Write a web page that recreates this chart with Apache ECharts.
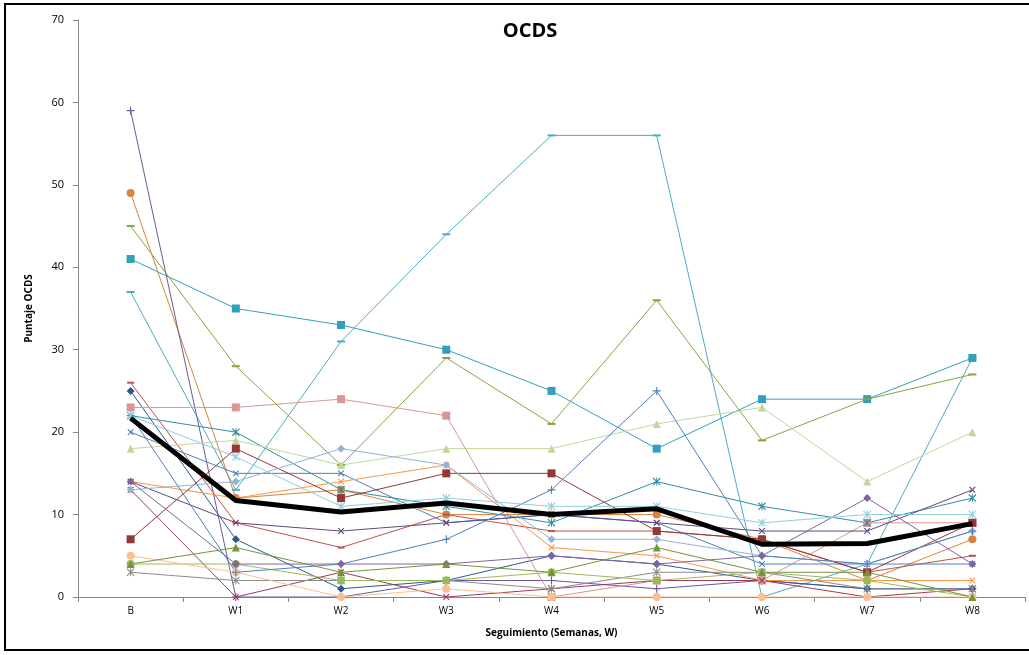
<!DOCTYPE html>
<html>
<head>
<meta charset="utf-8">
<script src="https://cdn.jsdelivr.net/npm/echarts@6/dist/echarts.min.js"></script>
<style>
  html, body { margin: 0; padding: 0; background: #fff; }
  #chart { width: 1029px; height: 655px; }
</style>
</head>
<body>
<div id="chart"></div>
<script>
// Follow-up weeks
const weeks = ['B', 'W1', 'W2', 'W3', 'W4', 'W5', 'W6', 'W7', 'W8'];
const yTicks = [0, 10, 20, 30, 40, 50, 60, 70];

// Individual OCDS scores per patient
const p01 = [37, 13, 31, 44, 56, 56, 0, 4, 29];
const p02 = [41, 35, 33, 30, 25, 18, 24, 24, 29];
const p03 = [45, 28, 16, 29, 21, 36, 19, 24, 27];
const p04 = [49, 12, 13, 10, 10, 10, 7, 2, 7];
const p05 = [59, 0, 0, 2, 2, 1, 2, 1, 1];
const p06 = [26, 9, 6, 10, 8, 8, 7, 3, 5];
const p07 = [25, 7, 1, 2, 5, 4, 2, 1, 1];
const p08 = [23, 23, 24, 22, 0, 2, 2, 9, 9];
const p09 = [22, 20, 13, 11, 9, 14, 11, 9, 12];
const p10 = [20, 15, 15, 9, 10, 9, 4, 4, 4];
const p11 = [18, 19, 16, 18, 18, 21, 23, 14, 20];
const p12 = [14, 12, 14, 16, 6, 5, 2, 2, 2];
const p13 = [7, 18, 12, 15, 15, 8, 7, 3, 9];
const p14 = [14, 9, 8, 9, 10, 9, 8, 8, 13];
const p15 = [13, 0, 3, 0, 1, 2, 2, 0, 1];
const p16 = [3, 2, 2, 2, 1, 3, 3, 1, 1];
const p17 = [4, 4, 2, 2, 3, 2, 3, 2, 0];
const p18 = [5, 3, 0, 1, 0, 0, 0, 0, 0];
const p19 = [13, 14, 18, 16, 7, 7, 5, 4, 8];
const p20 = [22, 3, 4, 7, 13, 25, 5, 4, 8];
const p21 = [14, 4, 4, 4, 5, 4, 5, 12, 4];
const p22 = [22, 17, 11, 12, 11, 11, 9, 10, 10];
const p23 = [4, 6, 3, 4, 3, 6, 3, 3, 0];

// Group mean
const meanScore = [21.7, 11.7, 10.3, 11.4, 10.0, 10.7, 6.4, 6.5, 8.9];

// Marker shapes
const PLUS = 'path://M4.3,0H5.7V4.3H10V5.7H5.7V10H4.3V5.7H0V4.3H4.3Z';
const DASH = 'path://M0,0H10V10H0Z';
const STAR = 'path://M4.4,0H5.6V10H4.4Z M1,0L10,9L9,10L0,1Z M9,0L10,1L1,10L0,9Z';

const patients = [
  { d: p01, c: '#4BACC6', s: DASH, z: [8, 2] },
  { d: p02, c: '#31A0B8', s: 'rect', z: 8 },
  { d: p03, c: '#8AA340', s: DASH, z: [8, 2] },
  { d: p04, c: '#D9843B', s: 'circle', z: 8 },
  { d: p05, c: '#6A5A9A', s: PLUS, z: 8 },
  { d: p06, c: '#C0504D', s: DASH, z: [7, 2] },
  { d: p07, c: '#2C5A8F', s: 'diamond', z: 8 },
  { d: p08, c: '#D99694', s: 'rect', z: 8 },
  { d: p09, c: '#2E8FA6', s: STAR, z: 8 },
  { d: p10, c: '#4F81BD', s: PLUS, z: 8, r: 45 },
  { d: p11, c: '#C3D69B', s: 'triangle', z: 8 },
  { d: p12, c: '#F79646', s: PLUS, z: 8, r: 45 },
  { d: p13, c: '#953735', s: 'rect', z: 8 },
  { d: p14, c: '#604A7B', s: PLUS, z: 8, r: 45 },
  { d: p15, c: '#A03A5A', s: PLUS, z: 8, r: 45 },
  { d: p16, c: '#8C8C8C', s: STAR, z: 8 },
  { d: p17, c: '#9BBB59', s: 'circle', z: 8 },
  { d: p18, c: '#FAC090', s: 'circle', z: 8 },
  { d: p19, c: '#95B3D7', s: 'diamond', z: 8 },
  { d: p20, c: '#4F81BD', s: PLUS, z: 8 },
  { d: p21, c: '#8064A2', s: 'diamond', z: 8 },
  { d: p22, c: '#93CDDD', s: STAR, z: 8 },
  { d: p23, c: '#77933C', s: 'triangle', z: 8 }
];

const FONT = 'Open Sans';

const series = patients.map((p, i) => ({
  name: 'P' + (i + 1),
  type: 'line',
  data: p.d,
  symbol: p.s,
  symbolSize: p.z,
  symbolRotate: p.r || 0,
  showAllSymbol: true,
  lineStyle: { color: p.c, width: 1 },
  itemStyle: { color: p.c },
  emphasis: { disabled: true },
  animation: false,
  z: 2
}));

series.push({
  name: 'Media',
  type: 'line',
  data: meanScore,
  symbol: 'none',
  lineStyle: { color: '#000', width: 5 },
  emphasis: { disabled: true },
  animation: false,
  z: 5
});

const chart = echarts.init(document.getElementById('chart'), null, { renderer: 'canvas' });
chart.setOption({
  backgroundColor: '#fff',
  animation: false,
  title: {
    text: 'OCDS',
    left: 525,
    top: 16,
    textAlign: 'center',
    textStyle: { fontFamily: FONT, fontWeight: 'bold', fontSize: 20, color: '#000' }
  },
  graphic: [{
    type: 'rect',
    shape: { x: 5, y: 4, width: 1040, height: 646 },
    style: { fill: 'none', stroke: '#000', lineWidth: 2 },
    silent: true
  }],
  grid: { left: 78, right: 4, top: 20, bottom: 58 },
  xAxis: {
    type: 'category',
    data: weeks,
    boundaryGap: true,
    name: 'Seguimiento (Semanas, W)',
    nameLocation: 'middle',
    nameGap: 31,
    nameTextStyle: { fontFamily: FONT, fontWeight: 'bold', fontSize: 10, color: '#000' },
    axisLine: { lineStyle: { color: '#868686', width: 1 } },
    axisTick: { show: true, length: 5, alignWithLabel: false, lineStyle: { color: '#868686' } },
    axisLabel: { fontFamily: FONT, fontSize: 10, color: '#000', margin: 9 },
    splitLine: { show: false }
  },
  yAxis: {
    type: 'value',
    min: yTicks[0],
    max: yTicks[yTicks.length - 1],
    interval: 10,
    name: 'Puntaje OCDS',
    nameLocation: 'middle',
    nameGap: 44,
    nameTextStyle: { fontFamily: FONT, fontWeight: 'bold', fontSize: 10, color: '#000' },
    axisLine: { show: true, lineStyle: { color: '#868686', width: 1 } },
    axisTick: { show: true, length: 5, lineStyle: { color: '#868686' } },
    axisLabel: { fontFamily: FONT, fontSize: 11, color: '#000', margin: 14 },
    splitLine: { show: false }
  },
  series: series
});
</script>
</body>
</html>
